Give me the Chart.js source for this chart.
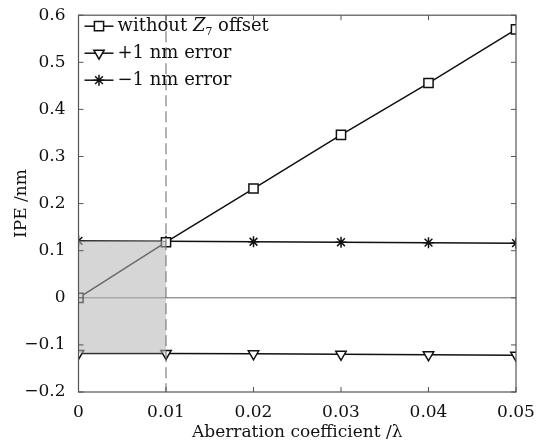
<!DOCTYPE html>
<html>
<head>
<meta charset="utf-8">
<script src="https://cdn.jsdelivr.net/npm/chart.js@4.4.1/dist/chart.umd.min.js"></script>
<style>
  html, body { margin: 0; padding: 0; background: #fff; }
  #box { width: 554px; height: 445px; }
</style>
</head>
<body>
<div id="box"><canvas id="ipe"></canvas></div>
<script>
// data
const coeffs = [0, 0.01, 0.02, 0.03, 0.04, 0.05];
const withoutOffset = [0, 0.118, 0.232, 0.346, 0.456, 0.570];
const plusOneNm = [-0.118, -0.118, -0.119, -0.120, -0.121, -0.122];
const minusOneNm = [0.121, 0.120, 0.119, 0.118, 0.117, 0.116];
const shadeX = [0, 0.01];
const shadeY = [-0.118, 0.12];
const dashX = 0.01;

const FONT = 'DejaVu Serif';

function pts(ys) {
  return coeffs.map((x, i) => ({x: x, y: ys[i]}));
}

// shaded box, dashed line, zero line, frame, inward ticks, legend
const decor = {
  id: 'decor',
  beforeDatasetsDraw(chart) {
    const {ctx, chartArea: a, scales: {x, y}} = chart;
    ctx.save();
    ctx.strokeStyle = '#6a6a6a';
    ctx.lineWidth = 1;
    const y0 = y.getPixelForValue(0);
    ctx.beginPath();
    ctx.moveTo(a.left, y0);
    ctx.lineTo(a.right, y0);
    ctx.stroke();
    ctx.restore();
  },
  afterDatasetsDraw(chart) {
    const {ctx, chartArea: a, scales: {x, y}} = chart;
    ctx.save();
    const x1 = x.getPixelForValue(shadeX[0]), x2 = x.getPixelForValue(shadeX[1]);
    const y1 = y.getPixelForValue(shadeY[1]), y2 = y.getPixelForValue(shadeY[0]);
    ctx.fillStyle = 'rgba(180,180,180,0.55)';
    ctx.fillRect(x1, y1, x2 - x1, y2 - y1);
    ctx.strokeStyle = '#888';
    ctx.lineWidth = 1;
    ctx.beginPath();
    ctx.moveTo(x1, y1);
    ctx.lineTo(x2, y1);
    ctx.stroke();

    // dashed vertical
    const xd = x.getPixelForValue(dashX);
    ctx.strokeStyle = '#666';
    ctx.setLineDash([11, 5]);
    ctx.beginPath();
    ctx.moveTo(xd, a.top);
    ctx.lineTo(xd, a.bottom);
    ctx.stroke();
    ctx.setLineDash([]);

    // frame
    ctx.strokeStyle = '#555';
    ctx.lineWidth = 1.2;
    ctx.strokeRect(a.left, a.top, a.right - a.left, a.bottom - a.top);

    // inward ticks
    ctx.lineWidth = 1;
    const t = 5;
    x.ticks.forEach(tk => {
      const px = x.getPixelForValue(tk.value);
      ctx.beginPath();
      ctx.moveTo(px, a.bottom); ctx.lineTo(px, a.bottom - t);
      ctx.moveTo(px, a.top); ctx.lineTo(px, a.top + t);
      ctx.stroke();
    });
    y.ticks.forEach(tk => {
      const py = y.getPixelForValue(tk.value);
      ctx.beginPath();
      ctx.moveTo(a.left, py); ctx.lineTo(a.left + t, py);
      ctx.moveTo(a.right, py); ctx.lineTo(a.right - t, py);
      ctx.stroke();
    });

    // legend
    const rows = [
      {ds: 0, parts: [['without ', ''], ['Z', 'italic'], ['7', 'sub'], [' offset', '']]},
      {ds: 1, parts: [['+1 nm error', '']]},
      {ds: 2, parts: [['\u22121 nm error', '']]}
    ];
    const lx = a.left + 6, ly = a.top + 11;
    rows.forEach((r, i) => {
      const yy = ly + i * 27;
      const ds = chart.data.datasets[r.ds];
      ctx.strokeStyle = '#111';
      ctx.lineWidth = 1.5;
      ctx.beginPath();
      ctx.moveTo(lx, yy); ctx.lineTo(lx + 29, yy);
      ctx.stroke();
      ctx.fillStyle = '#fff';
      Chart.helpers.drawPoint(ctx, {
        pointStyle: ds.pointStyle, rotation: ds.pointRotation || 0,
        radius: ds.pointRadius, borderWidth: 1.5
      }, lx + 14.5, yy);
      let tx = lx + 33;
      ctx.fillStyle = '#111';
      ctx.textBaseline = 'middle';
      r.parts.forEach(([s, st]) => {
        if (st === 'italic') ctx.font = 'italic 18px ' + FONT;
        else if (st === 'sub') ctx.font = '11px ' + FONT;
        else ctx.font = '18px ' + FONT;
        ctx.fillText(s, tx, st === 'sub' ? yy + 6 : yy);
        tx += ctx.measureText(s).width;
      });
    });
    ctx.restore();
  }
};

const common = {
  borderColor: '#111',
  borderWidth: 1.5,
  pointBorderColor: '#111',
  pointBackgroundColor: '#fff',
  pointBorderWidth: 1.5,
  fill: false,
  tension: 0
};

new Chart(document.getElementById('ipe'), {
  type: 'scatter',
  data: {
    datasets: [
      Object.assign({label: 'without Z7 offset', data: pts(withoutOffset), pointStyle: 'rect', pointRadius: 6.5}, common, {showLine: true}),
      Object.assign({label: '+1 nm error', data: pts(plusOneNm), pointStyle: 'triangle', pointRotation: 180, pointRadius: 6}, common, {showLine: true}),
      Object.assign({label: '\u22121 nm error', data: pts(minusOneNm), pointStyle: 'star', pointRadius: 5.5}, common, {showLine: true})
    ]
  },
  options: {
    responsive: true,
    maintainAspectRatio: false,
    animation: false,
    layout: {padding: {top: 14, right: 38, left: 0, bottom: 0}},
    plugins: {legend: {display: false}, tooltip: {enabled: false}},
    scales: {
      x: {
        type: 'linear', min: 0, max: 0.05,
        grid: {display: false},
        border: {display: false},
        afterFit(s) { s.height = 53; },
        ticks: {
          stepSize: 0.01, padding: 2, color: '#111',
          font: {family: FONT, size: 17},
          callback: v => v === 0 ? '0' : v.toFixed(2)
        },
        title: {display: true, text: 'Aberration coefficient /\u03bb', color: '#111',
          font: {family: FONT, size: 17}, padding: {top: 0, bottom: 2}}
      },
      y: {
        type: 'linear', min: -0.2, max: 0.6,
        grid: {display: false},
        border: {display: false},
        afterFit(s) { s.width = 78.5; },
        ticks: {
          stepSize: 0.1, padding: 5, color: '#111',
          font: {family: FONT, size: 17},
          callback: v => Math.abs(v) < 1e-9 ? '0' : v.toFixed(1).replace('-', '\u2212')
        },
        title: {display: true, text: 'IPE /nm', color: '#111',
          font: {family: FONT, size: 17}, padding: {top: 11, bottom: 0}}
      }
    }
  },
  plugins: [decor]
});
</script>
</body>
</html>
